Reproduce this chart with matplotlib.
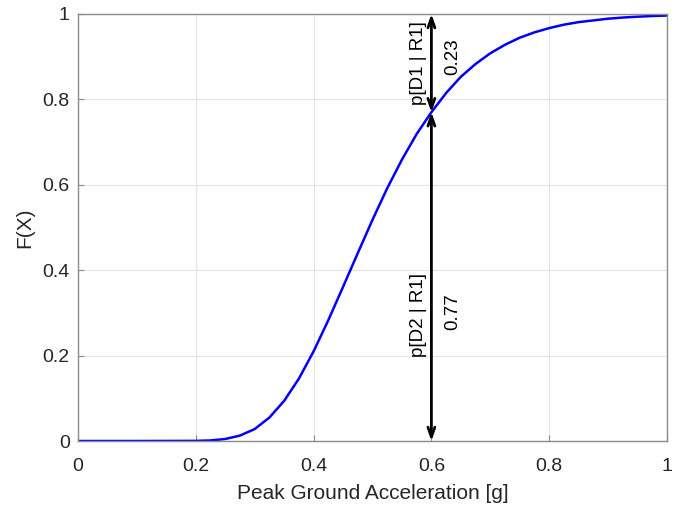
import matplotlib
matplotlib.use("Agg")
import matplotlib.pyplot as plt

plt.rcParams['font.family'] = ['Liberation Sans', 'DejaVu Sans']

pga = [0.0, 0.1, 0.2, 0.225, 0.25, 0.275, 0.3, 0.325, 0.35, 0.375, 0.4, 0.425, 0.45,
       0.475, 0.5, 0.525, 0.55, 0.575, 0.6, 0.625, 0.65, 0.675, 0.7, 0.725, 0.75,
       0.775, 0.8, 0.825, 0.85, 0.875, 0.9, 0.925, 0.95, 0.975, 1.0]
cdf = [0.0, 0.0, 0.0003, 0.0013, 0.0047, 0.0127, 0.028, 0.055, 0.094, 0.146, 0.21, 0.283,
       0.361, 0.44, 0.518, 0.592, 0.659, 0.719, 0.77, 0.815, 0.853, 0.883, 0.908, 0.928,
       0.9445, 0.957, 0.967, 0.975, 0.981, 0.985, 0.989, 0.9917, 0.9937, 0.9953, 0.9964]

x_mark = 0.6
p_d2 = 0.77
p_d1 = 0.23
label_d1 = "p[D1 | R1]"
label_d2 = "p[D2 | R1]"
xticks = [0, 0.2, 0.4, 0.6, 0.8, 1]
xtick_labels = ["0", "0.2", "0.4", "0.6", "0.8", "1"]
yticks = [0, 0.2, 0.4, 0.6, 0.8, 1]
ytick_labels = ["0", "0.2", "0.4", "0.6", "0.8", "1"]

fig = plt.figure(figsize=(6.77, 5.05), dpi=100)
ax = fig.add_axes([78/677, 1-441/505, (667-78)/677, (441-14)/505])

ax.plot(pga, cdf, color='#0000ff', lw=1.8)

arrow_kw = dict(arrowstyle='<->,head_length=0.7,head_width=0.25', color='black', lw=2,
                shrinkA=0, shrinkB=0)
ax.annotate('', xy=(x_mark, 0), xytext=(x_mark, p_d2), arrowprops=arrow_kw)
ax.annotate('', xy=(x_mark, p_d2), xytext=(x_mark, p_d2 + p_d1), arrowprops=arrow_kw)

ax.text(0.578, 0.884, label_d1, rotation=90, ha='center', va='center', fontsize=13.5)
ax.text(0.637, 0.90, f"{p_d1:.2f}", rotation=90, ha='center', va='center', fontsize=13.5)
ax.text(0.578, 0.295, label_d2, rotation=90, ha='center', va='center', fontsize=13.5)
ax.text(0.637, 0.302, f"{p_d2:.2f}", rotation=90, ha='center', va='center', fontsize=13.5)

ax.set_xlim(0, 1)
ax.set_ylim(0, 1)
ax.set_xticks(xticks)
ax.set_xticklabels(xtick_labels)
ax.set_yticks(yticks)
ax.set_yticklabels(ytick_labels)
ax.grid(True, color='#e3e3e3', lw=0.8)
ax.set_axisbelow(True)
for s in ax.spines.values():
    s.set_color('#8c8c8c')
    s.set_linewidth(1.0)
ax.tick_params(direction='in', length=4, color='#8c8c8c', labelsize=14, labelcolor='#262626',
               top=False, right=False)
ax.tick_params(axis='x', pad=12)
ax.tick_params(axis='y', pad=6)
ax.set_xlabel("Peak Ground Acceleration [g]", fontsize=15, color='#262626', labelpad=7)
ax.set_ylabel("F(X)", fontsize=15, color='#262626', labelpad=6)

fig.savefig("out.png", dpi=100)
